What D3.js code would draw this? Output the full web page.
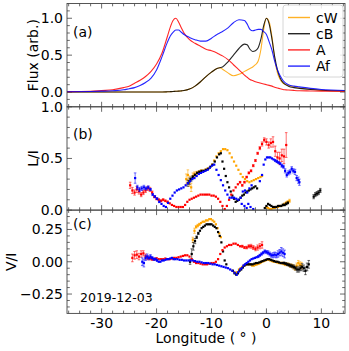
<!DOCTYPE html>
<html><head><meta charset="utf-8">
<script src="https://cdn.jsdelivr.net/npm/d3@7"></script>
<style>body{margin:0;background:#fff} text{font-family:"DejaVu Sans",sans-serif;fill:#000}</style>
</head><body><svg id="c" width="349" height="351"></svg>
<script>
// ---------- DATA ----------
const seriesNames = ["cW", "cB", "A", "Af"];
const seriesColors = ["orange", "black", "red", "blue"];
const xTicks = [-30, -20, -10, 0, 10];
const dateLabel = "2019-12-03";

// Panel (a): flux profiles
const fluxLon = [-36.3,-32,-30,-28,-26,-25,-24,-23,-22,-21,-20,-19,-18,-17.5,-17,-16.5,-16,-15.5,-15,-14,-13,-12,-11,-10,-9,-8.5,-8,-7,-6,-5,-4,-3.5,-3,-2.5,-2,-1.5,-1,-0.5,0,0.5,1,1.5,2,2.5,3,3.5,4,5,6,8,10,14.3];
const fluxA  = [0.005,0.01,0.02,0.03,0.06,0.08,0.12,0.16,0.21,0.28,0.38,0.53,0.76,0.88,0.97,1.0,0.95,0.87,0.80,0.71,0.66,0.62,0.58,0.56,0.53,0.51,0.49,0.44,0.37,0.30,0.23,0.20,0.17,0.155,0.14,0.13,0.12,0.11,0.10,0.09,0.08,0.065,0.055,0.045,0.035,0.03,0.027,0.022,0.018,0.015,0.012,0.01];
const fluxAf = [0.003,0.008,0.012,0.018,0.03,0.045,0.06,0.09,0.13,0.19,0.30,0.48,0.68,0.76,0.81,0.84,0.84,0.81,0.78,0.74,0.71,0.69,0.69,0.73,0.78,0.80,0.82,0.87,0.94,0.98,0.97,0.92,0.85,0.83,0.84,0.85,0.85,0.82,0.78,0.68,0.57,0.42,0.30,0.22,0.16,0.12,0.10,0.08,0.07,0.05,0.035,0.02];
const fluxCB = [0,0,0,0,0,0,0,0,0,0,0,0,0.003,0.005,0.007,0.01,0.012,0.016,0.02,0.04,0.08,0.14,0.21,0.27,0.32,0.33,0.34,0.41,0.50,0.59,0.65,0.64,0.58,0.55,0.56,0.60,0.72,0.90,1.0,0.92,0.72,0.48,0.30,0.19,0.13,0.10,0.08,0.06,0.05,0.035,0.025,0.015];
const fluxCW = [0,0,0,0,0,0,0,0,0,0,0,0,0.003,0.005,0.007,0.01,0.012,0.016,0.02,0.04,0.08,0.14,0.21,0.27,0.32,0.33,0.31,0.26,0.22,0.24,0.28,0.30,0.32,0.34,0.37,0.42,0.58,0.85,1.0,0.95,0.75,0.45,0.26,0.17,0.12,0.10,0.09,0.07,0.055,0.04,0.025,0.015];

// Panel (b): L/I  [longitude, value, error]
const liCW = [[-14.6,0.30,0.05],[-14.3,0.34,0.05],[-14.0,0.28,0.05],[-13.7,0.22,0.04],[-13.4,0.33,0.03],[-13.1,0.35,0.02],[-12.7,0.36,0.015],[-12.3,0.37,0.01],[-11.9,0.38,0.01],[-11.5,0.38,0.008],[-11.1,0.39,0.008],[-10.7,0.40,0.008],[-10.3,0.41,0.005],[-9.9,0.44,0.005],[-9.5,0.48,0.005],[-9.1,0.52,0.005],[-8.7,0.55,0.005],[-8.3,0.57,0.005],[-7.9,0.59,0.005],[-7.5,0.59,0.005],[-7.1,0.58,0.005],[-6.7,0.55,0.005],[-6.3,0.51,0.005],[-5.9,0.47,0.005],[-5.5,0.43,0.005],[-5.1,0.39,0.005],[-4.7,0.35,0.005],[-4.3,0.32,0.005],[-3.9,0.30,0.005],[-3.5,0.28,0.005],[-3.1,0.27,0.005],[-2.7,0.28,0.005],[-2.3,0.29,0.005],[-1.9,0.30,0.005],[-1.5,0.31,0.005],[-1.1,0.32,0.005],[-0.8,0.33,0.005],[0.0,0.03,0.005],[0.3,0.02,0.005],[0.6,0.01,0.005],[0.9,0.01,0.005],[1.2,0.02,0.005],[1.5,0.02,0.005],[1.8,0.03,0.005],[2.1,0.03,0.005],[2.4,0.04,0.005],[2.7,0.04,0.005],[3.0,0.05,0.005],[3.3,0.06,0.008],[3.6,0.07,0.01],[3.9,0.08,0.01],[4.2,0.09,0.015]];
const liCB = [[-14.3,0.26,0.03],[-14.0,0.28,0.03],[-13.7,0.30,0.02],[-13.4,0.32,0.015],[-13.0,0.34,0.01],[-12.6,0.36,0.008],[-12.2,0.37,0.008],[-11.8,0.38,0.005],[-11.4,0.38,0.005],[-11.0,0.39,0.005],[-10.6,0.40,0.005],[-10.2,0.42,0.005],[-9.8,0.44,0.005],[-9.4,0.47,0.005],[-9.0,0.51,0.005],[-8.6,0.54,0.005],[-8.3,0.55,0.005],[-8.0,0.47,0.005],[-7.7,0.40,0.005],[-7.4,0.33,0.005],[-7.1,0.27,0.005],[-6.8,0.22,0.005],[-6.5,0.18,0.005],[-6.2,0.14,0.005],[-5.9,0.11,0.005],[-5.6,0.08,0.005],[-5.3,0.09,0.005],[-5.0,0.10,0.005],[-4.7,0.12,0.005],[-4.4,0.14,0.005],[-4.1,0.15,0.005],[-3.8,0.17,0.005],[-3.5,0.18,0.005],[-3.2,0.19,0.005],[-2.9,0.20,0.005],[-2.6,0.21,0.005],[-2.3,0.22,0.005],[-2.0,0.23,0.005],[-1.7,0.21,0.005],[-0.3,0.02,0.005],[0.0,0.04,0.005],[0.3,0.06,0.005],[0.6,0.05,0.005],[0.9,0.04,0.005],[1.2,0.03,0.005],[1.5,0.03,0.005],[1.8,0.03,0.005],[2.1,0.04,0.005],[2.4,0.04,0.005],[2.7,0.04,0.005],[3.0,0.05,0.008],[3.3,0.05,0.008],[3.6,0.06,0.01],[3.9,0.07,0.01],[8.6,0.13,0.02],[8.9,0.15,0.02],[9.2,0.16,0.02],[9.5,0.17,0.02],[9.8,0.19,0.02]];
const liA = [[-24.8,0.24,0.03],[-24.4,0.19,0.03],[-24.0,0.17,0.025],[-23.6,0.20,0.03],[-23.2,0.18,0.025],[-22.8,0.15,0.02],[-22.4,0.17,0.02],[-22.0,0.19,0.02],[-21.6,0.21,0.02],[-21.2,0.20,0.02],[-20.8,0.17,0.015],[-20.4,0.13,0.01],[-20.0,0.11,0.01],[-19.6,0.10,0.01],[-19.2,0.09,0.01],[-18.8,0.10,0.01],[-18.4,0.09,0.008],[-18.0,0.08,0.008],[-17.6,0.065,0.005],[-17.2,0.05,0.005],[-16.8,0.04,0.005],[-16.4,0.03,0.005],[-16.0,0.03,0.005],[-15.6,0.03,0.005],[-15.2,0.03,0.005],[-14.8,0.05,0.005],[-14.4,0.08,0.005],[-14.0,0.10,0.005],[-13.6,0.11,0.005],[-13.2,0.12,0.005],[-12.8,0.13,0.005],[-12.4,0.14,0.005],[-12.0,0.15,0.005],[-11.6,0.15,0.005],[-11.2,0.15,0.005],[-10.8,0.15,0.005],[-10.4,0.15,0.005],[-10.0,0.14,0.005],[-9.6,0.14,0.005],[-9.2,0.13,0.005],[-8.8,0.11,0.005],[-8.4,0.08,0.005],[-8.0,0.04,0.005],[-7.6,0.01,0.005],[-7.2,0.04,0.005],[-6.8,0.10,0.005],[-6.4,0.15,0.005],[-6.0,0.19,0.005],[-5.6,0.22,0.005],[-5.2,0.25,0.005],[-4.8,0.27,0.008],[-4.4,0.24,0.008],[-4.0,0.27,0.008],[-3.6,0.32,0.008],[-3.2,0.36,0.01],[-2.8,0.38,0.01],[-2.4,0.43,0.01],[-2.0,0.48,0.01],[-1.6,0.55,0.01],[-1.2,0.60,0.015],[-0.8,0.64,0.02],[-0.4,0.68,0.02],[0.0,0.66,0.03],[0.4,0.63,0.03],[0.8,0.65,0.04],[1.2,0.66,0.05],[1.6,0.57,0.05],[2.0,0.51,0.05],[2.4,0.50,0.06],[2.8,0.53,0.06],[3.2,0.52,0.07],[3.6,0.63,0.12]];
const liAf = [[-23.9,0.31,0.05],[-23.5,0.22,0.02],[-23.1,0.20,0.02],[-22.7,0.21,0.02],[-22.3,0.22,0.02],[-21.9,0.21,0.015],[-21.5,0.22,0.015],[-21.1,0.20,0.01],[-20.7,0.15,0.01],[-20.3,0.13,0.01],[-19.9,0.11,0.008],[-19.5,0.08,0.008],[-19.1,0.06,0.005],[-18.7,0.04,0.005],[-18.3,0.03,0.005],[-17.9,0.07,0.005],[-17.5,0.11,0.005],[-17.1,0.14,0.005],[-16.7,0.17,0.005],[-16.3,0.19,0.005],[-15.9,0.20,0.005],[-15.5,0.21,0.005],[-15.1,0.22,0.005],[-14.7,0.24,0.005],[-14.3,0.26,0.005],[-13.9,0.28,0.005],[-13.5,0.30,0.005],[-13.1,0.31,0.005],[-12.7,0.33,0.005],[-12.3,0.35,0.005],[-11.9,0.36,0.005],[-11.5,0.37,0.005],[-11.1,0.38,0.005],[-10.7,0.39,0.005],[-10.3,0.41,0.005],[-9.9,0.43,0.005],[-9.5,0.44,0.005],[-9.1,0.39,0.005],[-8.7,0.34,0.005],[-8.3,0.29,0.005],[-7.9,0.24,0.005],[-7.5,0.19,0.005],[-7.1,0.15,0.005],[-6.7,0.12,0.005],[-6.3,0.12,0.005],[-5.9,0.12,0.005],[-5.5,0.11,0.005],[-5.1,0.10,0.005],[-4.7,0.12,0.005],[-4.3,0.18,0.005],[-3.9,0.19,0.005],[-3.5,0.17,0.005],[-3.1,0.21,0.005],[-2.7,0.24,0.005],[-4.5,0.06,0.005],[-4.0,0.04,0.005],[-3.6,0.02,0.005],[-3.3,0.06,0.005],[-2.9,0.03,0.005],[-2.4,0.01,0.005],[-1.2,0.28,0.005],[-0.8,0.34,0.005],[-0.5,0.44,0.005],[-0.2,0.49,0.005],[0.1,0.51,0.005],[0.4,0.51,0.005],[0.7,0.51,0.005],[1.0,0.50,0.005],[1.3,0.49,0.005],[1.6,0.48,0.01],[1.9,0.47,0.01],[2.2,0.46,0.01],[2.5,0.45,0.01],[2.8,0.43,0.015],[3.1,0.42,0.015],[3.4,0.38,0.02],[3.7,0.34,0.02],[4.0,0.36,0.02],[4.3,0.37,0.02],[4.6,0.40,0.02],[4.9,0.38,0.02],[5.2,0.37,0.025],[5.5,0.31,0.025],[5.8,0.29,0.03],[6.0,0.27,0.03]];

// Panel (c): V/I  [longitude, value, error]
const viCW = [[-13.4,0.17,0.02],[-13.1,0.24,0.02],[-12.8,0.27,0.01],[-12.5,0.28,0.01],[-12.2,0.29,0.008],[-11.9,0.30,0.005],[-11.6,0.31,0.005],[-11.3,0.31,0.005],[-11.0,0.32,0.005],[-10.7,0.32,0.005],[-10.4,0.33,0.005],[-10.1,0.33,0.005],[-9.8,0.32,0.005],[-9.5,0.31,0.005],[-9.2,0.29,0.005],[-8.9,0.26,0.005],[-8.6,0.22,0.005],[-8.3,0.19,0.005],[-6.2,-0.07,0.005],[-5.9,-0.08,0.005],[-5.6,-0.085,0.005],[-5.3,-0.08,0.005],[-5.0,-0.06,0.005],[-4.7,-0.05,0.005],[-4.4,-0.04,0.005],[-4.1,-0.03,0.005],[-3.8,-0.025,0.005],[-3.5,-0.02,0.005],[-3.2,-0.02,0.005],[-2.9,-0.02,0.005],[-2.6,-0.03,0.005],[-2.3,-0.03,0.005],[-2.0,-0.025,0.005],[-1.7,-0.02,0.005],[-1.4,-0.015,0.005],[-1.1,-0.01,0.005],[-0.8,0.0,0.005],[-0.5,0.005,0.005],[-0.2,0.01,0.005],[0.1,0.015,0.005],[0.4,0.015,0.005],[0.7,0.01,0.005],[1.0,0.005,0.005],[1.3,0.0,0.005],[1.6,0.0,0.005],[1.9,-0.005,0.005],[2.2,-0.01,0.005],[2.5,-0.01,0.005],[2.8,-0.01,0.008],[3.1,-0.015,0.008],[3.4,-0.02,0.01],[3.7,-0.02,0.01],[4.0,-0.02,0.01],[4.3,-0.03,0.012],[4.6,-0.03,0.012],[4.9,-0.04,0.015],[5.2,-0.05,0.015],[5.5,-0.03,0.02],[5.8,-0.01,0.02],[6.1,-0.02,0.02],[6.4,-0.03,0.025]];
const viCB = [[-13.9,0.0,0.02],[-13.6,0.06,0.04],[-13.3,0.12,0.03],[-13.0,0.16,0.02],[-12.7,0.19,0.01],[-12.4,0.22,0.008],[-12.1,0.24,0.005],[-11.8,0.26,0.005],[-11.5,0.27,0.005],[-11.2,0.28,0.005],[-10.9,0.29,0.005],[-10.6,0.29,0.005],[-10.3,0.29,0.005],[-10.0,0.29,0.005],[-9.7,0.28,0.005],[-9.4,0.27,0.005],[-9.1,0.26,0.005],[-8.8,0.23,0.005],[-8.5,0.20,0.005],[-8.2,0.15,0.005],[-7.9,0.08,0.005],[-7.6,0.01,0.005],[-7.3,-0.02,0.005],[-6.1,-0.07,0.005],[-5.8,-0.09,0.005],[-5.5,-0.10,0.005],[-5.2,-0.09,0.005],[-4.9,-0.07,0.005],[-4.6,-0.06,0.005],[-4.3,-0.045,0.005],[-4.0,-0.03,0.005],[-3.7,-0.02,0.005],[-3.4,-0.02,0.005],[-3.1,-0.02,0.005],[-2.8,-0.02,0.005],[-2.5,-0.02,0.005],[-2.2,-0.015,0.005],[-1.9,-0.01,0.005],[-1.6,-0.01,0.005],[-1.3,-0.005,0.005],[-1.0,0.0,0.005],[-0.7,0.005,0.005],[-0.4,0.01,0.005],[-0.1,0.015,0.005],[0.2,0.02,0.005],[0.5,0.02,0.005],[0.8,0.015,0.005],[1.1,0.01,0.005],[1.4,0.005,0.005],[1.7,0.0,0.005],[2.0,0.0,0.005],[2.3,-0.005,0.005],[2.6,-0.01,0.005],[2.9,-0.01,0.005],[3.2,-0.01,0.008],[3.5,-0.015,0.008],[3.8,-0.02,0.01],[4.1,-0.025,0.01],[4.4,-0.03,0.012],[4.7,-0.035,0.012],[5.0,-0.04,0.015],[5.3,-0.05,0.015],[5.6,-0.06,0.02],[5.9,-0.06,0.02],[6.2,-0.05,0.02],[6.5,-0.04,0.025],[6.8,-0.05,0.025],[7.1,-0.07,0.03],[7.4,-0.04,0.03],[7.7,-0.02,0.03]];
const viA = [[-24.4,0.03,0.03],[-24.0,0.05,0.03],[-23.6,0.055,0.03],[-23.2,0.04,0.025],[-22.8,0.06,0.025],[-22.4,0.065,0.02],[-22.0,0.04,0.02],[-21.6,0.03,0.015],[-21.2,0.025,0.01],[-20.8,0.02,0.01],[-20.4,0.02,0.008],[-20.0,0.025,0.008],[-19.6,0.02,0.005],[-19.2,0.02,0.005],[-18.8,0.02,0.005],[-18.4,0.025,0.005],[-18.0,0.02,0.005],[-17.6,0.02,0.005],[-17.2,0.025,0.005],[-16.8,0.03,0.005],[-16.4,0.03,0.005],[-16.0,0.035,0.005],[-15.6,0.04,0.005],[-15.2,0.045,0.005],[-14.8,0.05,0.005],[-14.4,0.05,0.005],[-14.0,0.04,0.005],[-13.6,0.02,0.005],[-13.2,0.0,0.005],[-12.8,-0.01,0.005],[-12.4,-0.01,0.005],[-12.0,-0.015,0.005],[-11.6,-0.02,0.005],[-11.2,-0.02,0.005],[-10.8,-0.02,0.005],[-10.4,-0.015,0.005],[-10.0,-0.01,0.005],[-9.6,-0.01,0.005],[-9.2,0.0,0.005],[-8.8,0.02,0.005],[-8.4,0.06,0.005],[-8.0,0.09,0.005],[-7.6,0.11,0.005],[-7.2,0.12,0.005],[-6.8,0.13,0.005],[-6.4,0.13,0.005],[-6.0,0.14,0.005],[-5.6,0.14,0.005],[-5.2,0.13,0.005],[-4.8,0.12,0.005],[-4.4,0.12,0.008],[-4.0,0.11,0.008],[-3.6,0.11,0.01],[-3.2,0.12,0.012],[-2.8,0.12,0.015],[-2.4,0.11,0.015],[-2.0,0.10,0.015],[-1.6,0.11,0.02],[-1.2,0.12,0.02],[-0.8,0.13,0.025]];
const viAf = [[-22.6,0.0,0.03],[-22.3,-0.01,0.03],[-22.0,0.03,0.02],[-21.7,0.04,0.02],[-21.4,0.03,0.015],[-21.1,0.04,0.015],[-20.8,0.03,0.01],[-20.5,0.02,0.01],[-20.2,0.02,0.008],[-19.9,0.01,0.008],[-19.6,0.0,0.005],[-19.3,0.0,0.005],[-19.0,0.01,0.005],[-18.7,0.01,0.005],[-18.4,0.015,0.005],[-18.1,0.02,0.005],[-17.8,0.02,0.005],[-17.5,0.025,0.005],[-17.2,0.03,0.005],[-16.9,0.02,0.005],[-16.6,0.02,0.005],[-16.2,0.02,0.005],[-15.8,0.015,0.005],[-15.4,0.015,0.005],[-15.0,0.01,0.005],[-14.6,0.01,0.005],[-14.2,0.01,0.005],[-13.8,0.01,0.005],[-13.4,0.01,0.005],[-13.0,0.005,0.005],[-12.6,0.0,0.005],[-12.2,0.0,0.005],[-11.8,-0.005,0.005],[-11.4,-0.01,0.005],[-11.0,-0.01,0.005],[-10.6,-0.01,0.005],[-10.2,-0.015,0.005],[-9.8,-0.02,0.005],[-9.4,-0.02,0.005],[-9.0,-0.025,0.005],[-8.6,-0.03,0.005],[-8.2,-0.035,0.005],[-7.8,-0.04,0.005],[-7.4,-0.045,0.005],[-7.0,-0.05,0.005],[-6.6,-0.06,0.005],[-6.2,-0.07,0.005],[-5.8,-0.085,0.005],[-5.4,-0.10,0.005],[-5.1,-0.08,0.005],[-4.8,-0.06,0.005],[-4.5,-0.05,0.005],[-4.2,-0.03,0.005],[-3.9,-0.02,0.005],[-3.6,-0.01,0.005],[-3.3,0.0,0.005],[-3.0,0.01,0.005],[-2.7,0.02,0.005],[-2.4,0.025,0.005],[-2.1,0.03,0.005],[-1.8,0.035,0.005],[-1.5,0.04,0.008],[-1.2,0.05,0.008],[-0.9,0.06,0.01],[-0.6,0.07,0.01],[-0.3,0.08,0.012],[0.0,0.075,0.012],[0.3,0.07,0.015],[0.6,0.06,0.015],[0.9,0.05,0.015],[1.2,0.05,0.02],[1.5,0.055,0.02],[1.8,0.05,0.02],[2.1,0.06,0.025],[2.4,0.07,0.025],[2.7,0.08,0.03],[3.0,0.07,0.03],[3.3,0.06,0.03]];

// ---------- DRAW ----------
const svg = d3.select('#c');
const L = 67, R = 345, T = 3.5, H = 103.3;
const x = d3.scaleLinear().domain([-36.3, 14.3]).range([L, R]);
const frameCol = '#444';

const panels = [
  {dom: [-0.2, 1.2], major: [0, 0.5, 1.0], minor: d3.range(-0.2, 1.21, 0.1), fmt: d3.format('.1f'), label: 'Flux (arb.)', lx: 38, tag: '(a)'},
  {dom: [0, 1.0], major: [0, 0.5, 1.0], minor: d3.range(0, 1.01, 0.1), fmt: d3.format('.1f'), label: 'L/I', lx: 38, tag: '(b)'},
  {dom: [-0.4, 0.4], major: [-0.25, 0, 0.25], minor: d3.range(-0.4, 0.41, 0.05), fmt: d3.format('.2f'), label: 'V/I', lx: 16, tag: '(c)'}
];
panels.forEach((p, i) => {
  p.top = T + i * H; p.bot = p.top + H;
  p.y = d3.scaleLinear().domain(p.dom).range([p.bot, p.top]);
});

const defs = svg.append('defs');
panels.forEach((p, i) => {
  defs.append('clipPath').attr('id', 'clip' + i).append('rect')
    .attr('x', L).attr('y', p.top).attr('width', R - L).attr('height', H);
});

const xMinor = d3.range(-36, 14.4, 2).filter(v => !xTicks.includes(v));

panels.forEach((p, i) => {
  const g = svg.append('g');
  const tk = (x1, y1, x2, y2) => g.append('line').attr('x1', x1).attr('y1', y1).attr('x2', x2).attr('y2', y2)
      .attr('stroke', frameCol).attr('stroke-width', 0.8);
  // x ticks top and bottom (inward)
  xTicks.forEach(v => { const xx = x(v); tk(xx, p.bot, xx, p.bot - 5); tk(xx, p.top, xx, p.top + 5); });
  xMinor.forEach(v => { const xx = x(v); tk(xx, p.bot, xx, p.bot - 2.8); tk(xx, p.top, xx, p.top + 2.8); });
  // y ticks
  const isMajor = v => p.major.some(m => Math.abs(m - v) < 1e-6);
  p.major.forEach(v => { const yy = p.y(v); tk(L, yy, L + 5, yy); tk(R, yy, R - 5, yy); });
  p.minor.filter(v => !isMajor(v) && v > p.dom[0] + 1e-6 && v < p.dom[1] - 1e-6).forEach(v => {
    const yy = p.y(v); tk(L, yy, L + 2.8, yy); tk(R, yy, R - 2.8, yy);
  });
  // y tick labels
  p.major.forEach(v => {
    g.append('text').attr('x', L - 4).attr('y', p.y(v) + 5).attr('text-anchor', 'end')
      .attr('font-size', 14).text(p.fmt(v));
  });
  // y label
  g.append('text').attr('transform', `translate(${p.lx},${(p.top + p.bot) / 2}) rotate(-90)`)
    .attr('text-anchor', 'middle').attr('font-size', 14).text(p.label);
  // panel tag
  g.append('text').attr('x', 73).attr('y', p.top + [33, 32, 19][i]).attr('font-size', 14).text(p.tag);
});

// Panel (a) lines
const pa = panels[0];
const fluxSeries = [fluxCW, fluxCB, fluxA, fluxAf];
const line = d3.line().x(d => x(d[0])).y(d => pa.y(d[1])).curve(d3.curveMonotoneX);
const ga = svg.append('g').attr('clip-path', 'url(#clip0)');
fluxSeries.forEach((s, k) => {
  ga.append('path').datum(fluxLon.map((v, j) => [v, s[j]]))
    .attr('d', line).attr('fill', 'none').attr('stroke', seriesColors[k])
    .attr('stroke-width', 1.1).attr('stroke-opacity', 0.85);
});

// Scatter panels
function scatter(p, idx, sets) {
  const g = svg.append('g').attr('clip-path', `url(#clip${idx})`);
  sets.forEach((s, k) => {
    const col = seriesColors[k];
    const sg = g.append('g');
    s.forEach(d => {
      const xx = x(d[0]), y0 = p.y(d[1] - d[2]), y1 = p.y(d[1] + d[2]);
      if (y0 - y1 > 1.5) {
        sg.append('line').attr('x1', xx).attr('x2', xx).attr('y1', y0).attr('y2', y1)
          .attr('stroke', col).attr('stroke-width', 0.7).attr('stroke-opacity', 0.8);
        [y0, y1].forEach(yy => sg.append('line').attr('x1', xx - 1.3).attr('x2', xx + 1.3)
          .attr('y1', yy).attr('y2', yy).attr('stroke', col).attr('stroke-width', 0.7).attr('stroke-opacity', 0.8));
      }
      sg.append('rect').attr('x', xx - 1.1).attr('y', p.y(d[1]) - 1.1).attr('width', 2.2).attr('height', 2.2)
        .attr('fill', col);
    });
  });
}
scatter(panels[1], 1, [liCW, liCB, liA, liAf]);
scatter(panels[2], 2, [viCW, viCB, viA, viAf]);

// frames
panels.forEach(p => {
  svg.append('rect').attr('x', L).attr('y', p.top).attr('width', R - L).attr('height', H)
    .attr('fill', 'none').attr('stroke', frameCol).attr('stroke-width', 0.9);
});

// x tick labels
const pc = panels[2];
xTicks.forEach(v => {
  svg.append('text').attr('x', x(v)).attr('y', pc.bot + 15).attr('text-anchor', 'middle')
    .attr('font-size', 14).text(String(v));
});
svg.append('text').attr('x', (L + R) / 2).attr('y', pc.bot + 30).attr('text-anchor', 'middle')
  .attr('font-size', 14).text('Longitude ( ° )');

// date
svg.append('text').attr('x', 80).attr('y', pc.top + 92).attr('font-size', 12.5).text(dateLabel);

// legend
const lg = svg.append('g');
lg.append('rect').attr('x', 283).attr('y', 5).attr('width', 60).attr('height', 72).attr('rx', 3)
  .attr('fill', 'white').attr('fill-opacity', 0.85).attr('stroke', '#ccc').attr('stroke-width', 0.8);
seriesNames.forEach((n, k) => {
  const yy = 17.5 + k * 16.2;
  lg.append('line').attr('x1', 288).attr('x2', 310).attr('y1', yy).attr('y2', yy)
    .attr('stroke', seriesColors[k]).attr('stroke-width', 1.4).attr('stroke-opacity', 0.85);
  lg.append('text').attr('x', 316).attr('y', yy + 5).attr('font-size', 14).text(n);
});
</script></body></html>
